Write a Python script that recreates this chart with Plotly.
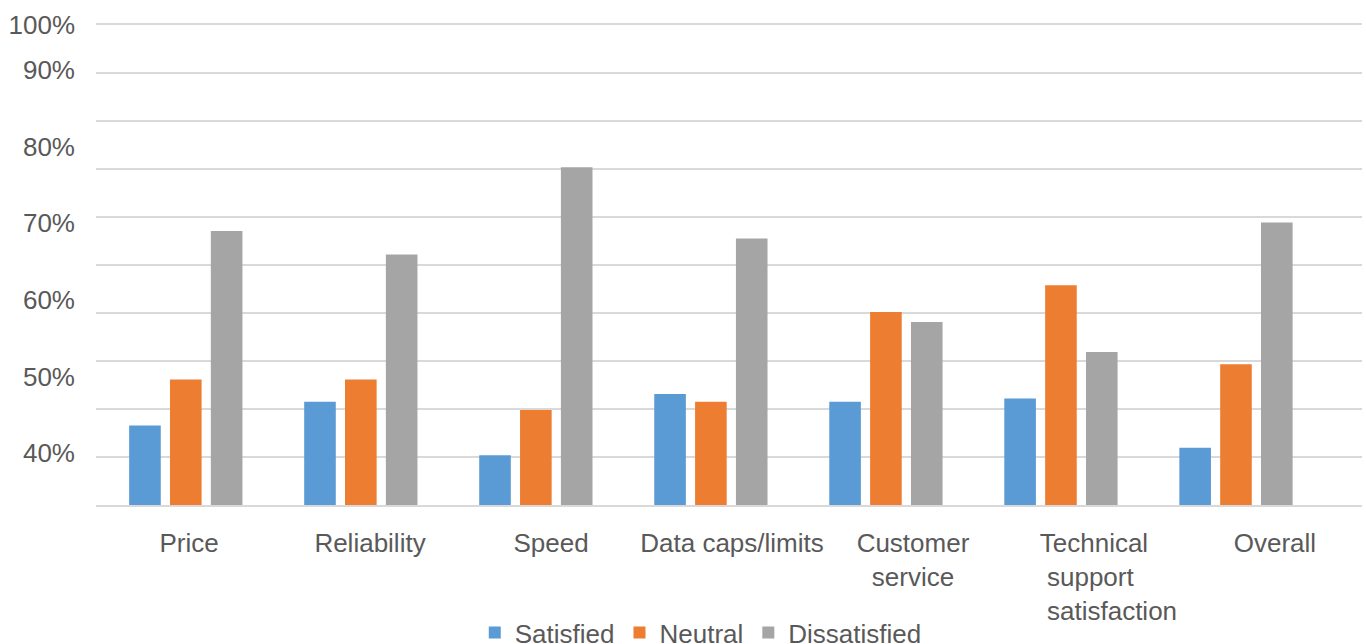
import plotly.graph_objects as go

NB = "\u00a0"
categories = ["Price", "Reliability", "Speed", "Data caps/limits", "Customer service",
              "Technical support satisfaction", "Overall"]
category_labels = ["Price", "Reliability", "Speed", "Data caps/limits", "Customer<br>service",
                   "Technical<br>support" + NB + "<br>" + NB * 5 + "satisfaction", "Overall"]
satisfied = [43.6, 46.7, 39.7, 47.7, 46.7, 47.1, 40.7]
neutral = [49.6, 49.6, 45.6, 46.7, 58.4, 61.9, 51.6]
dissatisfied = [69.0, 65.9, 77.3, 68.0, 57.1, 53.2, 70.1]

y_tick_values = [40, 50, 60, 70, 80, 90, 100]
y_tick_labels = ["40%", "50%", "60%", "70%", "80%", "90%", "100%"]

Y_MIN, Y_MAX = 33.21, 95.88
GRID_STEP = (Y_MAX - Y_MIN) / 10.0
Y_RANGE = [Y_MIN, Y_MAX]

FONT = "Liberation Sans, Arial, sans-serif"
FS = 26
TXT = "#595959"
GRID = "#D9D9D9"

fig = go.Figure()
for name, vals, col in [("Satisfied", satisfied, "#5B9BD5"),
                        ("Neutral", neutral, "#ED7D31"),
                        ("Dissatisfied", dissatisfied, "#A5A5A5")]:
    fig.add_trace(go.Bar(name=name, x=categories, y=vals, marker=dict(color=col, line=dict(width=0)),
                         xaxis="x", yaxis="y"))

# empty helper trace so the overlaid label axes are drawn
fig.add_trace(go.Scatter(x=[], y=[], xaxis="x2", yaxis="y2", showlegend=False, hoverinfo="skip"))

tick_pos = [min(v, Y_MAX - 0.01) for v in y_tick_values]

fig.update_layout(
    width=1366, height=644,
    margin=dict(l=96, r=4, t=25, b=139, autoexpand=False),
    paper_bgcolor="white", plot_bgcolor="white",
    barmode="group", bargap=0.30, bargroupgap=0.226,
    font=dict(family=FONT, size=FS, color=TXT),
    xaxis=dict(range=[-0.513, 6.72], showticklabels=False, showgrid=False, zeroline=False,
               showline=True, mirror=True, linecolor=GRID, linewidth=2, ticks="", automargin=False),
    xaxis2=dict(type="linear", overlaying="x", anchor="y2", side="bottom",
                range=[-0.514, 6.481], tickvals=list(range(len(categories))),
                ticktext=category_labels, showgrid=False, zeroline=False, showline=False,
                ticks="", ticklabelstandoff=20, automargin=False,
                tickfont=dict(family=FONT, size=FS, color=TXT)),
    yaxis=dict(range=Y_RANGE, tick0=Y_MIN, dtick=GRID_STEP, showticklabels=False,
               showgrid=True, gridcolor=GRID, gridwidth=2, zeroline=False, ticks="", automargin=False),
    yaxis2=dict(type="linear", overlaying="y", anchor="x2", side="left", range=Y_RANGE,
                tickvals=tick_pos, ticktext=y_tick_labels, showgrid=False, zeroline=False,
                showline=False, ticks="", ticklabelstandoff=20, automargin=False,
                tickfont=dict(family=FONT, size=FS, color=TXT)),
    legend=dict(orientation="h", xref="container", yref="container", x=0.513, xanchor="center",
                y=0.054, yanchor="top", font=dict(family=FONT, size=FS, color=TXT),
                bgcolor="rgba(0,0,0,0)"),
    showlegend=True,
)

fig.write_html("out.html")
